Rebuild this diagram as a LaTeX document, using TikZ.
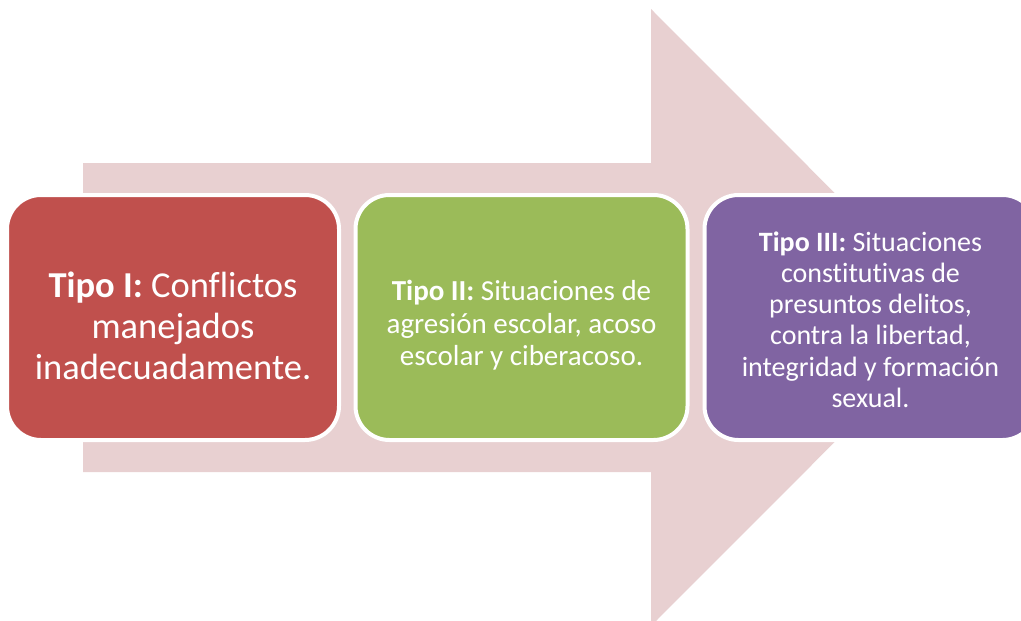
\documentclass[tikz,border=0pt]{standalone}
\usepackage{fontspec}
\setmainfont{Carlito}[Ligatures=NoCommon]
\definecolor{arrowpink}{RGB}{232,208,209}
\definecolor{tipored}{RGB}{192,80,77}
\definecolor{tipogreen}{RGB}{155,187,89}
\definecolor{tipopurple}{RGB}{128,100,162}

\begin{document}
\begin{tikzpicture}[x=1pt,y=-1pt,
    tipobox/.style={draw=white,line width=4pt,rounded corners=34pt,
      minimum width=332pt,minimum height=245pt,inner sep=0pt,
      align=center,text=white}]
  % Frame
  \clip (0,0) rectangle (1021,621);
  \fill[white] (0,0) rectangle (1021,621);

  % Arrow
  \fill[arrowpink] (83,163) -- (651,163) -- (651,9) -- (959,317.5)
    -- (651,626) -- (651,472) -- (83,472) -- cycle;

  % Tipo I
  \node[tipobox,fill=tipored,font=\fontsize{36.5}{41}\selectfont] (tipoI) at (173,317.5)
    {\rule{0pt}{42pt}\textbf{Tipo I:} Conflictos\\manejados\\inadecuadamente.};

  % Tipo II
  \node[tipobox,fill=tipogreen,font=\fontsize{29}{32.5}\selectfont] (tipoII) at (521.5,317.5)
    {\rule{0pt}{36pt}\textbf{Tipo II:} Situaciones de\\agresión escolar, acoso\\escolar y ciberacoso.};

  % Tipo III
  \node[tipobox,fill=tipopurple,font=\fontsize{28}{31.2}\selectfont] (tipoIII) at (870.5,317.5)
    {\rule{0pt}{24pt}\textbf{Tipo III:} Situaciones\\constitutivas de\\presuntos delitos,\\contra la libertad,\\integridad y formación\\sexual.};
\end{tikzpicture}
\end{document}
